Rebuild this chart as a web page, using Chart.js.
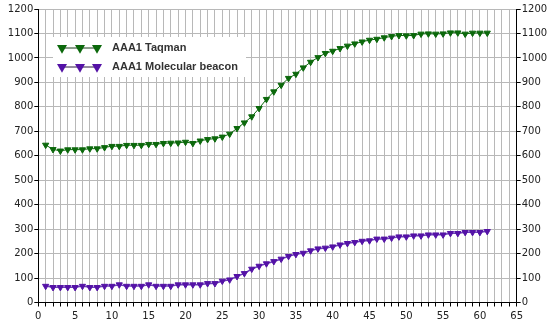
<!DOCTYPE html>
<html>
<head>
<meta charset="utf-8">
<script src="https://cdn.jsdelivr.net/npm/chart.js@4/dist/chart.umd.min.js"></script>
<style>
html,body{margin:0;padding:0;background:#fff;}
#wrap{width:548px;height:329px;}
</style>
</head>
<body>
<div id="wrap"><canvas id="c" width="548" height="329"></canvas></div>
<script>
const cycles = [1,2,3,4,5,6,7,8,9,10,11,12,13,14,15,16,17,18,19,20,21,22,23,24,25,26,27,28,29,30,31,32,33,34,35,36,37,38,39,40,41,42,43,44,45,46,47,48,49,50,51,52,53,54,55,56,57,58,59,60,61];
const taqman = [644,626,620,625,625,625,629,629,634,639,639,643,643,643,647,647,651,652,653,656,651,661,667,670,677,689,712,735,760,794,831,862,889,917,934,960,983,1002,1019,1028,1039,1049,1058,1066,1073,1077,1083,1088,1092,1091,1092,1098,1099,1098,1099,1103,1103,1098,1102,1102,1102];
const beacon = [67,62,62,62,62,67,62,62,67,67,73,67,67,67,73,67,67,67,73,73,73,73,78,78,88,93,107,119,137,149,159,168,178,189,197,202,212,220,223,228,236,242,246,251,253,260,260,264,269,269,273,273,277,277,277,283,283,287,287,287,291];
const seriesNames = ["AAA1 Taqman","AAA1 Molecular beacon"];
const yTicks = [0,100,200,300,400,500,600,700,800,900,1000,1100,1200];
const xLabelStep = 5;

const green = '#0b680b';
const purple = '#5412a6';

function pts(vals){ return cycles.map((c,i)=>({x:c,y:vals[i]})); }

const legendPlugin = {
  id:'customLegend',
  afterDatasetsDraw(chart){
    const ctx = chart.ctx;
    ctx.save();
    ctx.fillStyle = '#fff';
    ctx.fillRect(53,37,193,40);
    const rows = [{y:48,color:green,line:'#1c3a1c'},{y:67,color:purple,line:'#2a1a40'}];
    rows.forEach((r,i)=>{
      ctx.strokeStyle = r.line;
      ctx.lineWidth = 1;
      ctx.beginPath(); ctx.moveTo(62,r.y); ctx.lineTo(97,r.y); ctx.stroke();
      [62,80,97].forEach(cx=>{
        const rad = 5.8;
        ctx.fillStyle = r.color;
        ctx.beginPath();
        ctx.moveTo(cx - rad*0.866, r.y - rad*0.5);
        ctx.lineTo(cx + rad*0.866, r.y - rad*0.5);
        ctx.lineTo(cx, r.y + rad);
        ctx.closePath();
        ctx.fill();
      });
      ctx.fillStyle = '#333';
      ctx.font = 'bold 11px "Liberation Sans", Arial, sans-serif';
      ctx.textBaseline = 'middle';
      ctx.textAlign = 'left';
      ctx.fillText(seriesNames[i],112,r.y);
    });
    ctx.restore();
  }
};

const tickFont = {family:'"DejaVu Sans", Verdana, sans-serif', size:10};
const plain = (v)=>String(v);

new Chart(document.getElementById('c'),{
  type:'line',
  data:{
    datasets:[
      {label:seriesNames[0],data:pts(taqman),borderColor:green,backgroundColor:green,borderWidth:1,
       pointStyle:'triangle',rotation:180,pointRadius:3.6,pointBorderWidth:1,pointBorderColor:green,pointBackgroundColor:green,tension:0},
      {label:seriesNames[1],data:pts(beacon),borderColor:'#6a3dbb',backgroundColor:purple,borderWidth:1.5,
       pointStyle:'triangle',rotation:180,pointRadius:3.6,pointBorderWidth:1,pointBorderColor:purple,pointBackgroundColor:purple,tension:0}
    ]
  },
  options:{
    responsive:false,
    animation:false,
    layout:{padding:{top:9,left:0,right:0,bottom:0}},
    plugins:{legend:{display:false},tooltip:{enabled:false}},
    scales:{
      x:{type:'linear',min:0,max:65,
        afterFit(s){s.height=26.5;},
        ticks:{stepSize:1,autoSkip:false,maxRotation:0,color:'#222',font:tickFont,padding:4,
          callback:(v)=> (v % xLabelStep === 0 ? String(v) : '')},
        grid:{color:'#b8b8b8',lineWidth:1,tickColor:'#000',tickLength:4},
        border:{color:'#000',width:1}
      },
      y:{type:'linear',position:'left',min:0,max:1200,
        afterFit(s){s.width=38.3;},
        afterBuildTicks(s){s.ticks = yTicks.map(v=>({value:v}));},
        ticks:{color:'#222',font:tickFont,padding:1,callback:plain},
        grid:{color:'#b8b8b8',lineWidth:1,tickColor:'#000',tickLength:4},
        border:{color:'#000',width:1}
      },
      y2:{type:'linear',position:'right',min:0,max:1200,
        afterFit(s){s.width=31.3;},
        afterBuildTicks(s){s.ticks = yTicks.map(v=>({value:v}));},
        ticks:{color:'#222',font:tickFont,padding:1,callback:plain},
        grid:{drawOnChartArea:false,tickColor:'#000',tickLength:4},
        border:{color:'#000',width:1}
      }
    }
  },
  plugins:[legendPlugin]
});
</script>
</body>
</html>
